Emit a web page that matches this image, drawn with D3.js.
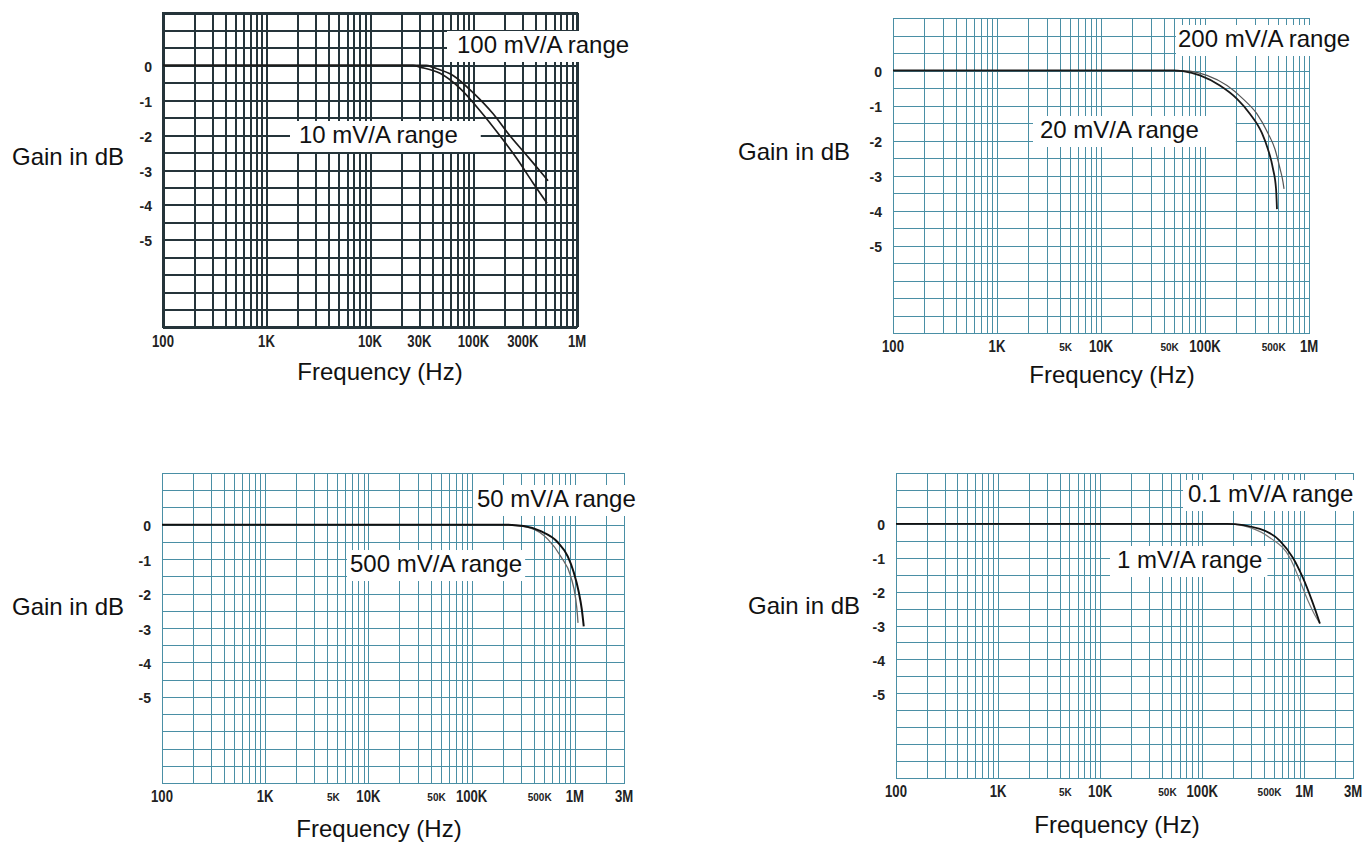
<!DOCTYPE html>
<html><head><meta charset="utf-8">
<script src="https://cdn.jsdelivr.net/npm/d3@7"></script>
<style>body{margin:0;background:#fff}svg{display:block}</style>
</head><body>
<svg id="c" width="1362" height="844"></svg>
<script>
// ---------- DATA ----------
const yTickValues = [0, -1, -2, -3, -4, -5];
const yTickLabels = ["0", "-1", "-2", "-3", "-4", "-5"];

const tlTickValues = [100, 1e3, 1e4, 3e4, 1e5, 3e5, 1e6];
const tlTickLabels = ["100", "1K", "10K", "30K", "100K", "300K", "1M"];
const trTickValues = [100, 1e3, 1e4, 1e5, 1e6];
const trTickLabels = ["100", "1K", "10K", "100K", "1M"];
const botTickValues = [100, 1e3, 1e4, 1e5, 1e6, 3e6];
const botTickLabels = ["100", "1K", "10K", "100K", "1M", "3M"];
const smallTickValues = [5e3, 5e4, 5e5];
const smallTickLabels = ["5K", "50K", "500K"];

// top-left: 10 mV/A and 100 mV/A ranges
const tl10Freq = [100, 1e4, 26000, 30400, 47500, 74100, 115600, 180300, 263000, 376000, 513000];
const tl10Gain = [0, 0, 0, -0.05, -0.23, -0.66, -1.30, -2.02, -2.68, -3.37, -3.95];
const tl100Freq = [100, 1e4, 35000, 40600, 63400, 98900, 154000, 225000, 329000, 439000, 525000];
const tl100Gain = [0, 0, 0, -0.06, -0.29, -0.78, -1.38, -2.02, -2.59, -3.03, -3.31];

// top-right: 20 mV/A and 200 mV/A ranges
const tr20Freq = [100, 5e4, 61400, 89500, 139000, 203000, 271000, 353000, 403000, 450000, 482000, 492000];
const tr20Gain = [0, 0, -0.02, -0.14, -0.43, -0.81, -1.24, -1.79, -2.25, -2.80, -3.38, -3.96];
const tr200Freq = [100, 6e4, 71800, 104500, 163000, 232000, 316000, 403000, 471000, 526000, 562000, 575000];
const tr200Gain = [0, 0, -0.02, -0.14, -0.43, -0.81, -1.24, -1.79, -2.25, -2.80, -3.18, -3.38];

// bottom-left: 50 mV/A and 500 mV/A ranges
const bl50Freq = [100, 150000, 204600, 320000, 468000, 684000, 855000, 977000, 1094000, 1170000, 1222000];
const bl50Gain = [0, 0, 0, -0.04, -0.19, -0.51, -0.92, -1.38, -1.96, -2.46, -2.95];
const bl500Freq = [100, 150000, 250000, 374000, 547000, 731000, 914000, 1023000, 1060000, 1075000];
const bl500Gain = [0, 0, -0.02, -0.10, -0.42, -0.92, -1.50, -2.17, -2.60, -2.85];

// bottom-right: 0.1 mV/A and 1 mV/A ranges
const br01Freq = [100, 120000, 174600, 367000, 577000, 773000, 968000, 1186000, 1422000];
const br01Gain = [0, 0, 0, -0.15, -0.50, -1.00, -1.59, -2.26, -2.94];
const br1Freq = [100, 120000, 174600, 300000, 460000, 723000, 906000, 1084000, 1300000, 1422000];
const br1Gain = [0, 0, 0, -0.12, -0.41, -1.00, -1.68, -2.26, -2.75, -2.94];

// ---------- LAYOUT ----------
const FONT = "'Liberation Sans', Arial, sans-serif";
const panels = [
  { x0:163, x1:577, y0:13, y1:327, fMax:1e6, dark:true,
    bigV:tlTickValues, bigL:tlTickLabels, smallV:[], smallL:[],
    tickBase:347, gain:[12,165], freq:[380,380],
    series:[{f:tl10Freq,g:tl10Gain,c:"#1c1c1c",w:1.7},{f:tl100Freq,g:tl100Gain,c:"#1c1c1c",w:1.7}],
    labels:[{t:"100 mV/A range",x:457,y:53,pl:10,pr:4},{t:"10 mV/A range",x:299,y:143,pl:9,pr:23}] },
  { x0:893, x1:1309, y0:18, y1:333, fMax:1e6, dark:false,
    bigV:trTickValues, bigL:trTickLabels, smallV:smallTickValues, smallL:smallTickLabels,
    tickBase:352, gain:[738,160], freq:[1112,383],
    series:[{f:tr200Freq,g:tr200Gain,c:"#555",w:1.2},{f:tr20Freq,g:tr20Gain,c:"#1a1a1a",w:1.8}],
    labels:[{t:"200 mV/A range",x:1178,y:47,pl:2,pr:8},{t:"20 mV/A range",x:1040,y:138,pl:7,pr:37}] },
  { x0:162, x1:624, y0:473, y1:783, fMax:3e6, dark:false,
    bigV:botTickValues, bigL:botTickLabels, smallV:smallTickValues, smallL:smallTickLabels,
    tickBase:802, gain:[12,615], freq:[379,837],
    series:[{f:bl500Freq,g:bl500Gain,c:"#666",w:1.3},{f:bl50Freq,g:bl50Gain,c:"#111",w:2}],
    labels:[{t:"50 mV/A range",x:477,y:507,pl:4,pr:5},{t:"500 mV/A range",x:350,y:572,pl:3,pr:3}] },
  { x0:896, x1:1353, y0:473, y1:778, fMax:3e6, dark:false,
    bigV:botTickValues, bigL:botTickLabels, smallV:smallTickValues, smallL:smallTickLabels,
    tickBase:797, gain:[748,614], freq:[1117,833],
    series:[{f:br1Freq,g:br1Gain,c:"#777",w:1.2},{f:br01Freq,g:br01Gain,c:"#111",w:1.8}],
    labels:[{t:"0.1 mV/A range",x:1188,y:502,pl:5,pr:6},{t:"1 mV/A range",x:1117,y:568,pl:7,pr:5}] }
];

const svg = d3.select("#c");

panels.forEach(p => {
  const x = d3.scaleLog().domain([100, p.fMax]).range([p.x0, p.x1]);
  const y = d3.scaleLinear().domain([1.5, -7.5]).range([p.y0, p.y1]);
  const g = svg.append("g");
  const gridG = g.append("g").attr("shape-rendering", "crispEdges");
  const boxG = g.append("g");
  const curveG = g.append("g");
  const textG = g.append("g");
  const hGrid = d3.range(1.5, -7.51, -0.5);
  const lineCol = p.dark ? "#25343a" : "#4a8fa5";
  const lineW = p.dark ? 2 : 1;

  const gv = gridG.append("g").attr("transform", `translate(0,${p.y1})`)
    .call(d3.axisBottom(x).ticks(10).tickSize(-(p.y1 - p.y0)).tickFormat(""));
  const gh = gridG.append("g").attr("transform", `translate(${p.x0},0)`)
    .call(d3.axisLeft(y).tickValues(hGrid).tickSize(-(p.x1 - p.x0)).tickFormat(""));
  [gv, gh].forEach(a => {
    a.select(".domain").remove();
    a.selectAll("line").attr("stroke", lineCol).attr("stroke-width", lineW);
  });
  gridG.append("rect").attr("x", p.x0).attr("y", p.y0)
    .attr("width", p.x1 - p.x0).attr("height", p.y1 - p.y0)
    .attr("fill", "none").attr("stroke", lineCol).attr("stroke-width", lineW);

  // labels with white boxes
  p.labels.forEach(l => {
    const t = textG.append("text").attr("x", l.x).attr("y", l.y)
      .attr("font-family", FONT).attr("font-size", 24).attr("fill", "#111").text(l.t);
    const w = t.node().getComputedTextLength();
    boxG.append("rect").attr("x", l.x - l.pl).attr("y", l.y - 22)
      .attr("width", w + l.pl + l.pr).attr("height", 31).attr("fill", "#fff");
  });

  // curves
  const line = d3.line().x(d => x(d[0])).y(d => y(d[1])).curve(d3.curveMonotoneX);
  p.series.forEach(s => {
    curveG.append("path").datum(s.f.map((f, i) => [f, s.g[i]]))
      .attr("d", line).attr("fill", "none").attr("stroke", s.c).attr("stroke-width", s.w);
  });

  // y tick labels
  yTickValues.forEach((v, i) => {
    textG.append("text").attr("x", p.x0 - 11).attr("y", y(v) + 6.5)
      .attr("text-anchor", "end").attr("font-family", FONT).attr("font-weight", "bold")
      .attr("font-size", 14).attr("fill", "#222").text(yTickLabels[i]);
  });
  // x tick labels (condensed bold)
  p.bigV.forEach((v, i) => {
    textG.append("text").attr("transform", `translate(${x(v)},${p.tickBase}) scale(0.82,1)`)
      .attr("text-anchor", "middle").attr("font-family", FONT).attr("font-weight", "bold")
      .attr("font-size", 16).attr("fill", "#222").text(p.bigL[i]);
  });
  p.smallV.forEach((v, i) => {
    textG.append("text").attr("x", x(v) - 4).attr("y", p.tickBase - 1)
      .attr("text-anchor", "middle").attr("font-family", FONT).attr("font-weight", "bold")
      .attr("font-size", 10).attr("fill", "#222").text(p.smallL[i]);
  });
  // axis titles
  textG.append("text").attr("x", p.gain[0]).attr("y", p.gain[1])
    .attr("font-family", FONT).attr("font-size", 24).attr("fill", "#111").text("Gain in dB");
  textG.append("text").attr("x", p.freq[0]).attr("y", p.freq[1]).attr("text-anchor", "middle")
    .attr("font-family", FONT).attr("font-size", 24).attr("fill", "#111").text("Frequency (Hz)");
});
</script>
</body></html>
